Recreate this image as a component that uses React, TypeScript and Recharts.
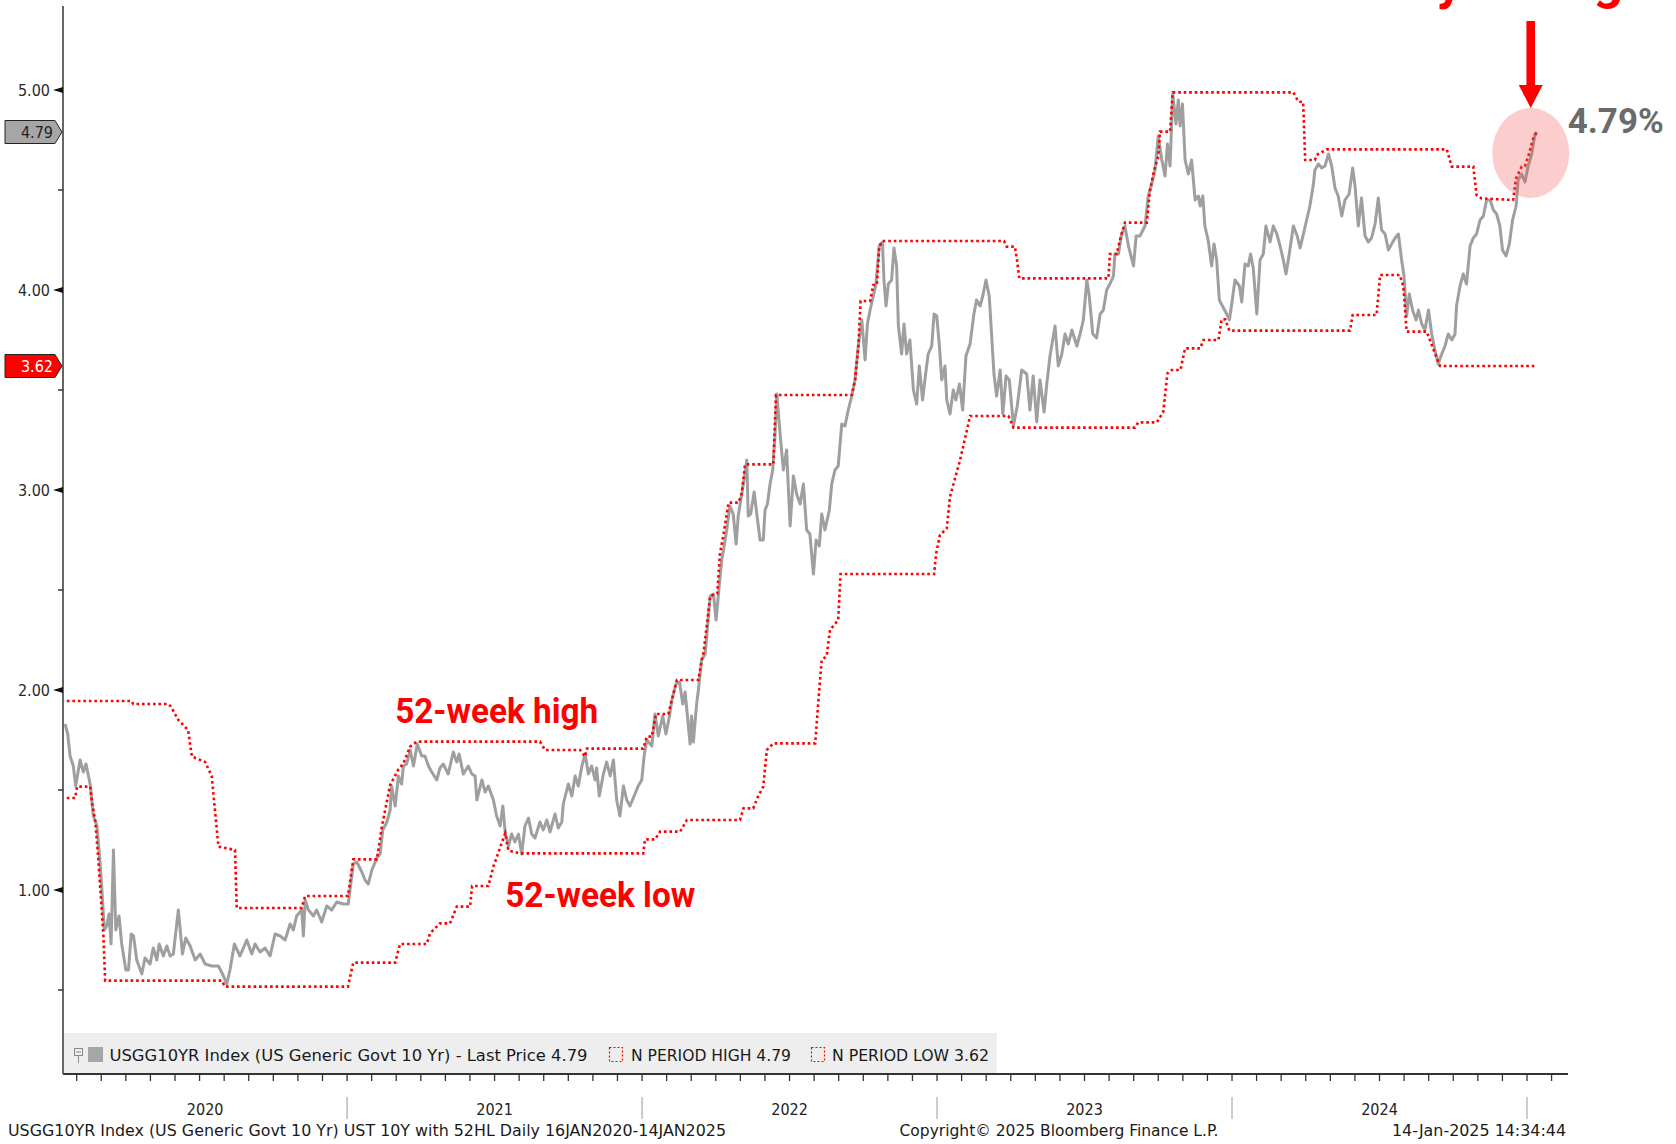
import React from "react";
import { LineChart, Line, XAxis, YAxis, ReferenceDot } from "recharts";

// USGG10YR last price: [decimal year, yield %]
const PRICE_2020: [number, number][] = [
  [2020.044, 1.83], [2020.053, 1.78], [2020.061, 1.67], [2020.072, 1.62], [2020.08, 1.52], [2020.095, 1.65],
  [2020.106, 1.59], [2020.115, 1.63], [2020.129, 1.53], [2020.14, 1.37], [2020.152, 1.32], [2020.163, 1.13],
  [2020.168, 1.02], [2020.177, 0.8], [2020.185, 0.82], [2020.193, 0.88], [2020.2, 0.73], [2020.208, 1.2],
  [2020.216, 0.8], [2020.227, 0.87], [2020.236, 0.73], [2020.25, 0.6], [2020.259, 0.6], [2020.268, 0.78],
  [2020.276, 0.77], [2020.287, 0.65], [2020.304, 0.58], [2020.315, 0.66], [2020.332, 0.63], [2020.343, 0.71],
  [2020.355, 0.65], [2020.363, 0.73], [2020.377, 0.67], [2020.389, 0.72], [2020.4, 0.67], [2020.411, 0.68],
  [2020.428, 0.9], [2020.442, 0.68], [2020.453, 0.76], [2020.468, 0.72], [2020.485, 0.65], [2020.502, 0.68],
  [2020.519, 0.63], [2020.541, 0.62], [2020.564, 0.62], [2020.581, 0.57], [2020.592, 0.53], [2020.603, 0.6],
  [2020.618, 0.73], [2020.637, 0.67], [2020.66, 0.75], [2020.677, 0.68], [2020.688, 0.73], [2020.705, 0.69],
  [2020.722, 0.71], [2020.739, 0.67], [2020.756, 0.78], [2020.773, 0.77], [2020.79, 0.75], [2020.807, 0.83],
  [2020.818, 0.8], [2020.829, 0.87], [2020.846, 0.9], [2020.852, 0.77], [2020.858, 0.95], [2020.869, 0.9],
  [2020.886, 0.87], [2020.897, 0.9], [2020.914, 0.84], [2020.931, 0.92], [2020.948, 0.9], [2020.965, 0.94],
  [2020.987, 0.93],
];

const PRICE_2021: [number, number][] = [
  [2021.004, 0.93], [2021.021, 1.13], [2021.033, 1.14], [2021.05, 1.09], [2021.061, 1.05], [2021.072, 1.03],
  [2021.084, 1.1], [2021.101, 1.16], [2021.112, 1.18], [2021.121, 1.3], [2021.135, 1.34], [2021.146, 1.4],
  [2021.151, 1.52], [2021.163, 1.42], [2021.174, 1.57], [2021.185, 1.53], [2021.191, 1.62], [2021.202, 1.63],
  [2021.214, 1.7], [2021.225, 1.62], [2021.238, 1.73], [2021.253, 1.67], [2021.264, 1.67], [2021.276, 1.62],
  [2021.287, 1.59], [2021.304, 1.55], [2021.315, 1.61], [2021.326, 1.63], [2021.343, 1.58], [2021.36, 1.69],
  [2021.372, 1.64], [2021.38, 1.68], [2021.394, 1.58], [2021.411, 1.62], [2021.423, 1.58], [2021.434, 1.57],
  [2021.44, 1.45], [2021.457, 1.55], [2021.468, 1.49], [2021.479, 1.52], [2021.496, 1.45], [2021.507, 1.37],
  [2021.519, 1.32], [2021.528, 1.42], [2021.536, 1.29], [2021.547, 1.22], [2021.558, 1.28], [2021.569, 1.24],
  [2021.581, 1.28], [2021.592, 1.18], [2021.603, 1.32], [2021.615, 1.36], [2021.626, 1.28], [2021.637, 1.26],
  [2021.654, 1.34], [2021.665, 1.3], [2021.677, 1.35], [2021.688, 1.29], [2021.705, 1.38], [2021.716, 1.31],
  [2021.728, 1.34], [2021.733, 1.43], [2021.75, 1.53], [2021.762, 1.47], [2021.773, 1.57], [2021.784, 1.52],
  [2021.796, 1.62], [2021.807, 1.68], [2021.818, 1.58], [2021.829, 1.62], [2021.841, 1.55], [2021.846, 1.61],
  [2021.855, 1.47], [2021.869, 1.58], [2021.88, 1.64], [2021.892, 1.57], [2021.903, 1.65], [2021.914, 1.45],
  [2021.925, 1.37], [2021.937, 1.52], [2021.948, 1.45], [2021.959, 1.42], [2021.976, 1.48], [2021.987, 1.52],
  [2021.999, 1.55],
];

const PRICE_2022: [number, number][] = [
  [2022.007, 1.67], [2022.016, 1.75], [2022.033, 1.72], [2022.044, 1.88], [2022.055, 1.77], [2022.07, 1.87],
  [2022.081, 1.78], [2022.093, 1.87], [2022.101, 1.95], [2022.115, 2.03], [2022.127, 2.04], [2022.138, 1.93],
  [2022.146, 1.99], [2022.157, 1.82], [2022.163, 1.73], [2022.168, 1.87], [2022.174, 1.74], [2022.185, 1.93],
  [2022.191, 2.0], [2022.202, 2.15], [2022.214, 2.18], [2022.221, 2.3], [2022.231, 2.47], [2022.242, 2.48],
  [2022.251, 2.35], [2022.259, 2.48], [2022.27, 2.65], [2022.276, 2.7], [2022.287, 2.8], [2022.298, 2.92],
  [2022.309, 2.88], [2022.319, 2.73], [2022.326, 2.87], [2022.338, 2.98], [2022.349, 3.08], [2022.355, 3.15],
  [2022.36, 2.87], [2022.368, 2.88], [2022.38, 2.99], [2022.389, 2.88], [2022.4, 2.75], [2022.411, 2.75],
  [2022.417, 2.9], [2022.425, 2.93], [2022.434, 3.03], [2022.443, 3.1], [2022.451, 3.28], [2022.457, 3.48],
  [2022.468, 3.28], [2022.479, 3.1], [2022.49, 3.2], [2022.502, 2.82], [2022.513, 3.07], [2022.524, 2.98],
  [2022.536, 2.93], [2022.547, 3.03], [2022.558, 2.8], [2022.569, 2.78], [2022.581, 2.58], [2022.59, 2.75],
  [2022.601, 2.72], [2022.609, 2.88], [2022.62, 2.8], [2022.635, 2.9], [2022.643, 3.03], [2022.654, 3.1],
  [2022.665, 3.12], [2022.677, 3.33], [2022.688, 3.32], [2022.699, 3.4], [2022.711, 3.47], [2022.722, 3.55],
  [2022.733, 3.72], [2022.745, 3.85], [2022.756, 3.65], [2022.764, 3.83], [2022.773, 3.9], [2022.784, 3.97],
  [2022.793, 4.03], [2022.804, 4.22], [2022.815, 4.24], [2022.82, 4.05], [2022.827, 3.92], [2022.835, 4.03],
  [2022.846, 4.05], [2022.854, 4.21], [2022.863, 4.12], [2022.869, 3.82], [2022.88, 3.68], [2022.888, 3.83],
  [2022.897, 3.68], [2022.908, 3.75], [2022.92, 3.5], [2022.931, 3.43], [2022.94, 3.62], [2022.951, 3.45],
  [2022.963, 3.6], [2022.97, 3.68], [2022.982, 3.72], [2022.99, 3.88], [2022.999, 3.87],
];

const PRICE_2023: [number, number][] = [
  [2023.008, 3.72], [2023.016, 3.55], [2023.027, 3.62], [2023.033, 3.45], [2023.044, 3.38], [2023.055, 3.5],
  [2023.064, 3.45], [2023.076, 3.53], [2023.087, 3.4], [2023.098, 3.67], [2023.112, 3.73], [2023.125, 3.88],
  [2023.134, 3.95], [2023.146, 3.92], [2023.155, 3.97], [2023.166, 4.05], [2023.177, 3.97], [2023.193, 3.58],
  [2023.202, 3.47], [2023.214, 3.6], [2023.223, 3.38], [2023.234, 3.57], [2023.245, 3.55], [2023.259, 3.32],
  [2023.272, 3.42], [2023.287, 3.6], [2023.304, 3.58], [2023.315, 3.4], [2023.326, 3.57], [2023.338, 3.34],
  [2023.349, 3.55], [2023.363, 3.39], [2023.372, 3.53], [2023.383, 3.67], [2023.4, 3.82], [2023.411, 3.62],
  [2023.423, 3.68], [2023.434, 3.78], [2023.445, 3.73], [2023.457, 3.8], [2023.474, 3.72], [2023.485, 3.78],
  [2023.496, 3.85], [2023.508, 4.05], [2023.516, 3.97], [2023.528, 3.78], [2023.541, 3.76], [2023.553, 3.88],
  [2023.564, 3.9], [2023.575, 4.0], [2023.586, 4.03], [2023.598, 4.07], [2023.603, 4.18], [2023.615, 4.18],
  [2023.626, 4.28], [2023.637, 4.32], [2023.649, 4.22], [2023.666, 4.12], [2023.675, 4.27], [2023.688, 4.27],
  [2023.705, 4.32], [2023.716, 4.47], [2023.728, 4.53], [2023.739, 4.6], [2023.75, 4.77], [2023.762, 4.65],
  [2023.773, 4.57], [2023.781, 4.73], [2023.79, 4.62], [2023.799, 4.98], [2023.81, 4.83], [2023.818, 4.95],
  [2023.824, 4.82], [2023.832, 4.93], [2023.841, 4.65], [2023.852, 4.58], [2023.863, 4.65], [2023.875, 4.45],
  [2023.886, 4.47], [2023.892, 4.42], [2023.901, 4.47], [2023.908, 4.32], [2023.919, 4.25], [2023.931, 4.12],
  [2023.939, 4.23], [2023.948, 4.15], [2023.957, 3.95], [2023.971, 3.91], [2023.982, 3.88], [2023.991, 3.85],
  [2023.999, 3.93],
];

const PRICE_2024: [number, number][] = [
  [2024.01, 4.05], [2024.025, 4.02], [2024.033, 3.94], [2024.044, 4.13], [2024.055, 4.12], [2024.063, 4.18],
  [2024.072, 4.11], [2024.084, 3.88], [2024.095, 4.15], [2024.106, 4.18], [2024.115, 4.32], [2024.129, 4.24],
  [2024.14, 4.32], [2024.152, 4.28], [2024.163, 4.22], [2024.174, 4.15], [2024.183, 4.08], [2024.194, 4.18],
  [2024.208, 4.32], [2024.221, 4.27], [2024.231, 4.21], [2024.242, 4.28], [2024.253, 4.35], [2024.264, 4.42],
  [2024.276, 4.53], [2024.281, 4.6], [2024.293, 4.63], [2024.304, 4.61], [2024.315, 4.62], [2024.327, 4.68],
  [2024.338, 4.62], [2024.349, 4.51], [2024.36, 4.47], [2024.372, 4.37], [2024.383, 4.45], [2024.397, 4.48],
  [2024.409, 4.61], [2024.417, 4.52], [2024.428, 4.32], [2024.439, 4.46], [2024.451, 4.27], [2024.462, 4.24],
  [2024.473, 4.26], [2024.485, 4.33], [2024.496, 4.46], [2024.507, 4.3], [2024.519, 4.28], [2024.53, 4.2],
  [2024.541, 4.23], [2024.553, 4.26], [2024.564, 4.28], [2024.575, 4.15], [2024.583, 4.07], [2024.592, 3.87],
  [2024.601, 3.98], [2024.612, 3.9], [2024.624, 3.85], [2024.632, 3.9], [2024.643, 3.83], [2024.654, 3.8],
  [2024.666, 3.9], [2024.677, 3.78], [2024.688, 3.7], [2024.699, 3.63], [2024.711, 3.68], [2024.722, 3.72],
  [2024.733, 3.78], [2024.745, 3.75], [2024.756, 3.78], [2024.761, 3.92], [2024.773, 4.02], [2024.784, 4.08],
  [2024.795, 4.03], [2024.807, 4.22], [2024.818, 4.26], [2024.829, 4.28], [2024.841, 4.35], [2024.852, 4.37],
  [2024.863, 4.45], [2024.875, 4.45], [2024.886, 4.4], [2024.897, 4.38], [2024.908, 4.32], [2024.917, 4.2],
  [2024.929, 4.17], [2024.94, 4.23], [2024.951, 4.35], [2024.963, 4.42], [2024.97, 4.55], [2024.982, 4.58],
  [2024.993, 4.54], [2025.004, 4.62], [2025.016, 4.68], [2025.027, 4.78], [2025.033, 4.79],
];

// N period (52-week) high
const HIGH_52W: [number, number][] = [
  [2020.05, 1.945], [2020.27, 1.945], [2020.275, 1.93], [2020.393, 1.93], [2020.403, 1.917], [2020.428, 1.85],
  [2020.461, 1.8], [2020.474, 1.667], [2020.519, 1.64], [2020.541, 1.57], [2020.564, 1.217], [2020.62, 1.2],
  [2020.626, 0.91], [2020.846, 0.91], [2020.858, 0.97], [2021.003, 0.97], [2021.021, 1.153], [2021.101, 1.153],
  [2021.118, 1.317], [2021.146, 1.525], [2021.173, 1.6], [2021.191, 1.633], [2021.214, 1.717], [2021.236, 1.742],
  [2021.654, 1.742], [2021.671, 1.7], [2021.79, 1.7], [2021.807, 1.667], [2021.813, 1.707], [2022.004, 1.707],
  [2022.016, 1.767], [2022.033, 1.767], [2022.047, 1.88], [2022.089, 1.88], [2022.101, 1.95], [2022.118, 2.05],
  [2022.191, 2.05], [2022.202, 2.15], [2022.208, 2.183], [2022.219, 2.317], [2022.231, 2.47], [2022.255, 2.483],
  [2022.264, 2.683], [2022.276, 2.775], [2022.293, 2.937], [2022.327, 2.937], [2022.338, 2.983], [2022.349, 3.128],
  [2022.445, 3.128], [2022.454, 3.475], [2022.711, 3.475], [2022.722, 3.55], [2022.733, 3.717], [2022.741, 3.945],
  [2022.773, 3.945], [2022.784, 4.025], [2022.796, 4.025], [2022.804, 4.217], [2022.815, 4.245], [2023.227, 4.245],
  [2023.236, 4.217], [2023.264, 4.217], [2023.271, 4.15], [2023.279, 4.058], [2023.581, 4.058], [2023.586, 4.18],
  [2023.609, 4.18], [2023.62, 4.25], [2023.637, 4.337], [2023.711, 4.337], [2023.722, 4.5], [2023.736, 4.6],
  [2023.75, 4.667], [2023.756, 4.792], [2023.79, 4.792], [2023.799, 4.988], [2024.208, 4.988], [2024.225, 4.942],
  [2024.241, 4.94], [2024.248, 4.65], [2024.281, 4.65], [2024.287, 4.675], [2024.321, 4.703], [2024.728, 4.703],
  [2024.745, 4.617], [2024.818, 4.617], [2024.829, 4.475], [2024.846, 4.458], [2024.953, 4.45], [2024.963, 4.558],
  [2024.982, 4.617], [2024.993, 4.62], [2025.004, 4.667], [2025.021, 4.758], [2025.033, 4.787],
];

// N period (52-week) low
const LOW_52W: [number, number][] = [
  [2020.05, 1.46], [2020.078, 1.46], [2020.085, 1.517], [2020.129, 1.517], [2020.136, 1.43], [2020.146, 1.35],
  [2020.157, 1.15], [2020.163, 1.017], [2020.174, 0.767], [2020.18, 0.547], [2020.575, 0.547], [2020.586, 0.517],
  [2021.003, 0.517], [2021.021, 0.637], [2021.163, 0.637], [2021.174, 0.7], [2021.18, 0.73], [2021.27, 0.73],
  [2021.281, 0.783], [2021.315, 0.833], [2021.349, 0.833], [2021.372, 0.917], [2021.417, 0.917], [2021.424, 1.02],
  [2021.479, 1.02], [2021.496, 1.117], [2021.536, 1.283], [2021.547, 1.197], [2021.587, 1.183], [2022.004, 1.183],
  [2022.01, 1.253], [2022.044, 1.253], [2022.061, 1.292], [2022.129, 1.292], [2022.152, 1.35], [2022.332, 1.35],
  [2022.344, 1.408], [2022.377, 1.408], [2022.393, 1.467], [2022.411, 1.517], [2022.423, 1.7], [2022.445, 1.733],
  [2022.587, 1.733], [2022.598, 1.95], [2022.609, 2.15], [2022.626, 2.17], [2022.637, 2.3], [2022.665, 2.35],
  [2022.673, 2.58], [2022.99, 2.58], [2022.997, 2.683], [2023.01, 2.775], [2023.033, 2.808], [2023.044, 2.967],
  [2023.078, 3.15], [2023.095, 3.258], [2023.112, 3.37], [2023.242, 3.37], [2023.259, 3.312], [2023.671, 3.312],
  [2023.682, 3.338], [2023.745, 3.338], [2023.767, 3.392], [2023.781, 3.583], [2023.796, 3.6], [2023.825, 3.6],
  [2023.841, 3.708], [2023.892, 3.708], [2023.903, 3.75], [2023.954, 3.75], [2023.965, 3.853], [2023.977, 3.853],
  [2023.991, 3.797], [2024.4, 3.797], [2024.409, 3.875], [2024.49, 3.875], [2024.502, 4.075], [2024.569, 4.075],
  [2024.581, 4.017], [2024.592, 3.792], [2024.66, 3.792], [2024.671, 3.75], [2024.688, 3.683], [2024.705, 3.62],
  [2025.033, 3.62],
];

const LAST_PRICE = 4.79;
const LAST_LOW = 3.62;
const Y_MAJOR = [1, 2, 3, 4, 5];
const Y_MINOR = [0.5, 1.5, 2.5, 3.5, 4.5];
const YEARS = [2020, 2021, 2022, 2023, 2024, 2025];
const YEAR_LABELS: [number, string][] = [
  [2020.519, "2020"], [2021.5, "2021"], [2022.5, "2022"], [2023.5, "2023"], [2024.5, "2024"],
];
const X_DOMAIN: [number, number] = [2020.037, 2025.139];
const Y_DOMAIN: [number, number] = [0.08, 5.42];

const toRows = (pts: [number, number][]) => pts.map(([t, v]) => ({ t, v }));
const priceRows = toRows([...PRICE_2020, ...PRICE_2021, ...PRICE_2022, ...PRICE_2023, ...PRICE_2024]);
const highRows = toRows(HIGH_52W);
const lowRows = toRows(LOW_52W);
const lastRow = priceRows[priceRows.length - 1];

const monthTicks = YEARS.flatMap((y) => Array.from({ length: 12 }, (_, m) => y + m / 12)).filter(
  (t) => t >= X_DOMAIN[0] && t <= X_DOMAIN[1]
);
const xTicks = [...monthTicks, YEAR_LABELS[0][0]].sort((a, b) => a - b);
const yTicks = [...Y_MINOR, ...Y_MAJOR, LAST_LOW, LAST_PRICE].sort((a, b) => a - b);

const BBG_FONT = "'DejaVu Sans Condensed', 'DejaVu Sans', sans-serif";
const RED = "#ff0000";

const XTick = (props: any) => {
  const { x, y, payload } = props;
  const t = payload.value;
  const label = YEAR_LABELS.find(([lt]) => Math.abs(lt - t) < 1e-6);
  const isMonth = Math.abs(t * 12 - Math.round(t * 12)) < 1e-6;
  const isJan = isMonth && Math.abs(t - Math.round(t)) < 1e-6;
  return (
    <g>
      {isMonth && <line x1={x} x2={x} y1={y} y2={y + 7} stroke="#333" strokeWidth={1.3} />}
      {isJan && t > 2020.5 && <line x1={x} x2={x} y1={y + 23} y2={y + 45} stroke="#9a9a9a" strokeWidth={1} />}
      {label && (
        <text x={x} y={y + 41} textAnchor="middle" fontFamily={BBG_FONT} fontSize={16} fill="#222">
          {label[1]}
        </text>
      )}
    </g>
  );
};

const YTick = (props: any) => {
  const { x, y, payload } = props;
  const v = payload.value;
  if (v === LAST_PRICE || v === LAST_LOW) {
    const last = v === LAST_PRICE;
    return (
      <g>
        <path
          d={`M${x - 58},${y - 11.5} H${x - 8} L${x - 1},${y} L${x - 8},${y + 11.5} H${x - 58} Z`}
          fill={last ? "#a6a6a6" : RED}
          stroke="#222"
          strokeWidth={1}
        />
        <text x={x - 10} y={y + 6} textAnchor="end" fontFamily={BBG_FONT} fontSize={16} fill={last ? "#222" : "#fff"}>
          {v.toFixed(2)}
        </text>
      </g>
    );
  }
  if (Y_MAJOR.includes(v)) {
    return (
      <g>
        <polygon points={`${x - 10},${y} ${x},${y - 3} ${x},${y + 3}`} fill="#111" />
        <text x={x - 13} y={y + 6} textAnchor="end" fontFamily={BBG_FONT} fontSize={16} fill="#2a2a2a">
          {v.toFixed(2)}
        </text>
      </g>
    );
  }
  return <line x1={x - 5} x2={x} y1={y} y2={y} stroke="#333" strokeWidth={1.5} />;
};

const WeekLabel = (text: string, width: number) => (props: any) => (
  <text
    x={props.cx}
    y={props.cy}
    fill={RED}
    fontFamily="Roboto, sans-serif"
    fontWeight={700}
    fontSize={35}
    textLength={width}
    lengthAdjust="spacingAndGlyphs"
  >
    {text}
  </text>
);

const LastMark = (props: any) => {
  const ex = props.cx - 6;
  const ey = props.cy + 21;
  return (
    <g>
      <ellipse cx={ex} cy={ey} rx={38.5} ry={45} fill="rgba(240,70,70,0.27)" />
      <rect x={ex - 4.3} y={ey - 132} width={8.6} height={66} fill={RED} />
      <polygon points={`${ex - 12},${ey - 68} ${ex + 12},${ey - 68} ${ex},${ey - 45}`} fill={RED} />
      <text
        x={ex + 37}
        y={ey - 20}
        fill="#6b6b6b"
        fontFamily="Roboto, sans-serif"
        fontWeight={700}
        fontSize={35}
        textLength={96}
        lengthAdjust="spacingAndGlyphs"
      >
        {LAST_PRICE.toFixed(2)}%
      </text>
    </g>
  );
};

const Overlay = () => (
  <svg
    width={1676}
    height={1144}
    style={{ position: "absolute", left: 0, top: 0, pointerEvents: "none" }}
  >
    {/* title sits above the frame, only its descenders show */}
    <text x={1652} y={-2} textAnchor="end" fill={RED} fontFamily="Roboto, sans-serif" fontWeight={700} fontSize={52}>
      10-Year Yield at 1-year high
    </text>
    {/* legend strip */}
    <rect x={64} y={1033} width={933} height={40} fill="#eeeeee" />
    <rect x={74.5} y={1048.5} width={8} height={7} fill="none" stroke="#8a8a8a" strokeWidth={1} />
    <line x1={76} x2={81} y1={1052} y2={1052} stroke="#8a8a8a" strokeWidth={1} />
    <line x1={78.5} x2={78.5} y1={1055.5} y2={1063} stroke="#8a8a8a" strokeWidth={1} />
    <rect x={88} y={1047} width={15} height={15} fill="#a6a6a6" />
    <text x={109.5} y={1061} fontFamily={BBG_FONT} fontSize={16} fill="#1a1a1a" textLength={478} lengthAdjust="spacingAndGlyphs">
      USGG10YR Index (US Generic Govt 10 Yr) - Last Price 4.79
    </text>
    <rect x={609.5} y={1047.5} width={13} height={14} fill="none" stroke={RED} strokeWidth={1.2} strokeDasharray="2 2" />
    <text x={631} y={1061} fontFamily={BBG_FONT} fontSize={16} fill="#1a1a1a" textLength={160} lengthAdjust="spacingAndGlyphs">
      N PERIOD HIGH 4.79
    </text>
    <rect x={811.5} y={1047.5} width={13} height={14} fill="none" stroke={RED} strokeWidth={1.2} strokeDasharray="2 2" />
    <text x={832} y={1061} fontFamily={BBG_FONT} fontSize={16} fill="#1a1a1a" textLength={157} lengthAdjust="spacingAndGlyphs">
      N PERIOD LOW 3.62
    </text>
    {/* footer */}
    <text x={8} y={1136} fontFamily={BBG_FONT} fontSize={15.5} fill="#1a1a1a" textLength={718} lengthAdjust="spacingAndGlyphs">
      USGG10YR Index (US Generic Govt 10 Yr) UST 10Y with 52HL  Daily 16JAN2020-14JAN2025
    </text>
    <text x={899.5} y={1136} fontFamily={BBG_FONT} fontSize={15.5} fill="#1a1a1a" textLength={319} lengthAdjust="spacingAndGlyphs">
      Copyright© 2025 Bloomberg Finance L.P.
    </text>
    <text x={1392} y={1136} fontFamily={BBG_FONT} fontSize={15.5} fill="#1a1a1a" textLength={174} lengthAdjust="spacingAndGlyphs">
      14-Jan-2025 14:34:44
    </text>
  </svg>
);

export default function App() {
  return (
    <div
      style={{
        position: "absolute",
        left: 0,
        top: 0,
        width: 1676,
        height: 1144,
        background: "#fff",
        overflow: "hidden",
      }}
    >
      <LineChart width={1676} height={1144} margin={{ top: 6, right: 108, bottom: 0, left: 0 }}>
        <XAxis
          type="number"
          dataKey="t"
          domain={X_DOMAIN}
          allowDataOverflow
          ticks={xTicks}
          interval={0}
          height={70}
          tickSize={0}
          tickMargin={0}
          tickLine={false}
          tick={<XTick />}
          axisLine={{ stroke: "#333", strokeWidth: 2 }}
        />
        <YAxis
          type="number"
          domain={Y_DOMAIN}
          allowDataOverflow
          ticks={yTicks}
          interval={0}
          width={63}
          tickSize={0}
          tickMargin={0}
          tickLine={false}
          tick={<YTick />}
          axisLine={{ stroke: "#666", strokeWidth: 2 }}
        />
        <Line
          data={priceRows}
          dataKey="v"
          type="linear"
          stroke="#9f9f9f"
          strokeWidth={3}
          strokeLinejoin="round"
          dot={false}
          activeDot={false}
          isAnimationActive={false}
        />
        <Line
          data={highRows}
          dataKey="v"
          type="linear"
          stroke={RED}
          strokeWidth={2.6}
          strokeDasharray="2.6 2.9"
          dot={false}
          activeDot={false}
          isAnimationActive={false}
        />
        <Line
          data={lowRows}
          dataKey="v"
          type="linear"
          stroke={RED}
          strokeWidth={2.6}
          strokeDasharray="2.6 2.9"
          dot={false}
          activeDot={false}
          isAnimationActive={false}
        />
        <ReferenceDot x={2021.163} y={1.835} r={1} shape={WeekLabel("52-week high", 203)} />
        <ReferenceDot x={2021.536} y={0.917} r={1} shape={WeekLabel("52-week low", 190)} />
        <ReferenceDot x={lastRow.t} y={lastRow.v} r={1} shape={LastMark} />
      </LineChart>
      <Overlay />
    </div>
  );
}
